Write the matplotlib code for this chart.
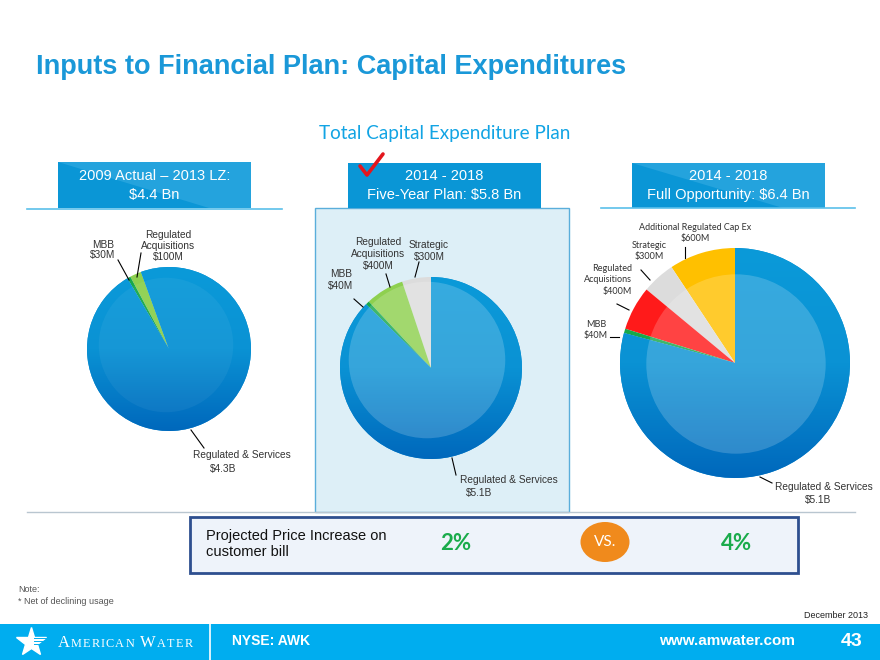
import numpy as np
import matplotlib.pyplot as plt
from matplotlib.patches import Rectangle, Polygon, Circle, Ellipse
from matplotlib.colors import LinearSegmentedColormap

W, H = 880, 660

# ---------- data ($M) ----------
PIE1_NAMES = ['Regulated\nAcquisitions', 'MBB', 'Regulated & Services']
PIE1_VALUES = [100, 30, 4300]
PIE2_NAMES = ['Strategic', 'Regulated\nAcquisitions', 'MBB', 'Regulated & Services']
PIE2_VALUES = [300, 400, 40, 5100]
PIE3_NAMES = ['Additional Regulated Cap Ex', 'Strategic', 'Regulated\nAcquisitions',
              'MBB', 'Regulated & Services']
PIE3_VALUES = [600, 300, 400, 40, 5100]
HEADERS = [('2009 Actual – 2013 LZ:', '$4.4 Bn'),
           ('2014 - 2018', 'Five-Year Plan: $5.8 Bn'),
           ('2014 - 2018', 'Full Opportunity: $6.4 Bn')]
PRICE_INCREASE = ['2%', '4%']

# ---------- colours ----------
BLUE = '#0C8FD4'
LGREEN = '#8ED04F'
DGREEN = '#17A84A'
GRAY = '#DCDCDC'
YELLOW = '#FFC000'
RED = '#FF1A1A'
HDR = '#0A96D6'
TITLE_BLUE = '#1A98D8'
FOOTER = '#00ADEF'

ARIAL = ['Liberation Sans', 'DejaVu Sans']
CALIBRI = ['Lato', 'DejaVu Sans']
SERIF = ['Liberation Serif', 'DejaVu Serif']


def Y(y):
    # slide pixel (top-down) -> data (bottom-up)
    return H - y


def fmt(v):
    return f'${v / 1000:.1f}B' if v >= 1000 else f'${v}M'


fig = plt.figure(figsize=(8.8, 6.6), dpi=100)
ax = fig.add_axes([0, 0, 1, 1])
ax.set_xlim(0, W)
ax.set_ylim(0, H)

# ---------- title ----------
ax.text(36, Y(67), 'Inputs to Financial Plan: Capital Expenditures', fontsize=19.5,
        fontweight='bold', color=TITLE_BLUE, family=ARIAL, va='center', ha='left')
ax.text(445, Y(133), 'Total Capital Expenditure Plan', fontsize=13.6, color='#12A4E4',
        family=CALIBRI, va='center', ha='center')

# ---------- middle panel ----------
ax.add_patch(Rectangle((315, Y(512)), 254, 304, fc='#DDEFF7', ec='#5AAEDB', lw=1, zorder=0))
ax.plot([27, 855], [Y(512), Y(512)], color='#B9C6D0', lw=1, zorder=0)

# ---------- header boxes ----------
boxes = [(58, 251, 162), (348, 541, 163), (632, 825, 163)]
for i, ((x0, x1, y0), (l1, l2)) in enumerate(zip(boxes, HEADERS)):
    ax.add_patch(Rectangle((x0, Y(208)), x1 - x0, 208 - y0, fc=HDR, lw=0, zorder=1))
    if i != 1:
        xb = x0 + 0.78 * (x1 - x0)
        ax.add_patch(Polygon([(x0, Y(y0)), (x1, Y(y0)), (x1, Y(208)), (xb, Y(208))],
                             closed=True, fc='#3FB0E4', alpha=0.5, lw=0, zorder=1))
    cx = (x0 + x1) / 2
    ax.text(cx, Y(176), l1, color='white', fontsize=10.5, family=ARIAL, ha='center', va='center', zorder=2)
    ax.text(cx, Y(195), l2, color='white', fontsize=10.5, family=ARIAL, ha='center', va='center', zorder=2)
ax.plot([27, 282], [Y(209), Y(209)], color='#5BC0EA', lw=1.2)
ax.plot([601, 855], [Y(208), Y(208)], color='#5BC0EA', lw=1.2)

# check mark
ax.plot([360, 367, 383], [Y(166), Y(175), Y(154)], color='#E3161D', lw=2.6,
        solid_capstyle='round', solid_joinstyle='round', zorder=3)


# ---------- pies ----------
def draw_pie(values, colors, cx, cy, r, start, inner, dots, alpha):
    wedges, _ = ax.pie(values, colors=colors, startangle=start, counterclock=True,
                       center=(cx, Y(cy)), radius=r, frame=True,
                       wedgeprops=dict(linewidth=0))
    big = wedges[-1]
    grad = np.linspace(0, 1, 256).reshape(-1, 1)
    cmap = LinearSegmentedColormap.from_list('b', ['#0068BC', '#0A92D4', '#0B9AD9'])
    im = ax.imshow(grad, extent=[cx - r, cx + r, Y(cy) - r, Y(cy) + r], origin='lower',
                   cmap=cmap, zorder=2, aspect='auto')
    im.set_clip_path(big)
    ax.add_patch(Circle((cx + dots[0], Y(cy + dots[1])), r * inner, fc='white',
                        alpha=alpha, lw=0, zorder=3))


draw_pie(PIE1_VALUES, [LGREEN, DGREEN, BLUE], 169, 349, 82, 110, 0.82, (-3, -4), 0.05)
draw_pie(PIE2_VALUES, [GRAY, LGREEN, DGREEN, BLUE], 431, 368, 91, 90, 0.86, (-4, -8), 0.18)
draw_pie(PIE3_VALUES, [YELLOW, GRAY, RED, DGREEN, BLUE], 735, 363, 115, 90, 0.78, (1, 1), 0.18)


def leader(line):
    (x0, y0), (x1, y1) = line
    ax.plot([x0, x1], [Y(y0), Y(y1)], color='black', lw=0.8, zorder=4)


def label(names, values, i, x, y, line, ha='center', fam=ARIAL, fs=7.3, ls=1.1):
    ax.text(x, Y(y), f'{names[i]}\n{fmt(values[i])}', fontsize=fs, family=fam,
            color='#333333', ha=ha, va='center', multialignment=ha, linespacing=ls, zorder=4)
    leader(line)


def label_split(names, values, i, x, y, vx, vy, line, fam=ARIAL, fs=7.3):
    # name and value placed on their own lines (value not centred under name)
    ax.text(x, Y(y), names[i], fontsize=fs, family=fam, color='#333333',
            ha='left', va='center', zorder=4)
    ax.text(vx, Y(vy), fmt(values[i]), fontsize=fs, family=fam, color='#333333',
            ha='left', va='center', zorder=4)
    leader(line)


# pie 1 labels
label(PIE1_NAMES, PIE1_VALUES, 1, 103, 250, ((118, 260), (129, 280)))
label(PIE1_NAMES, PIE1_VALUES, 0, 168, 246, ((141, 253), (137, 277)))
label_split(PIE1_NAMES, PIE1_VALUES, 2, 193, 455, 210, 469, ((191, 430), (204, 448)))
# pie 2 labels
label(PIE2_NAMES, PIE2_VALUES, 0, 429, 251, ((419, 262), (415, 277)), ls=1.3)
label(PIE2_NAMES, PIE2_VALUES, 1, 378, 254, ((386, 274), (390, 287)), ls=1.3)
label(PIE2_NAMES, PIE2_VALUES, 2, 341, 280, ((354, 299), (363, 307)), ls=1.3)
label_split(PIE2_NAMES, PIE2_VALUES, 3, 460, 480, 466, 493, ((452, 458), (456, 475)))
# pie 3 labels
label(PIE3_NAMES, PIE3_VALUES, 0, 695, 233, ((685, 247), (685, 258)), fam=CALIBRI, fs=6.5, ls=1.35)
label(PIE3_NAMES, PIE3_VALUES, 1, 649, 251, ((641, 270), (650, 280)), fam=CALIBRI, fs=6.5, ls=1.35)
label(PIE3_NAMES, PIE3_VALUES, 2, 632, 280, ((617, 304), (629, 310)), ha='right',
      fam=CALIBRI, fs=6.5, ls=1.35)
label(PIE3_NAMES, PIE3_VALUES, 3, 596, 330, ((610, 337), (619, 337)), fam=CALIBRI, fs=6.5, ls=1.35)
label_split(PIE3_NAMES, PIE3_VALUES, 4, 775, 487, 805, 500, ((760, 477), (772, 483)))

# ---------- price increase box ----------
ax.add_patch(Rectangle((190, Y(573)), 608, 56, fc='#EEF3FA', ec='#2E4F8F', lw=2, zorder=1))
ax.text(206, Y(544), 'Projected Price Increase on\ncustomer bill', fontsize=10.5, family=ARIAL,
        color='#111111', ha='left', va='center', linespacing=1.1, zorder=2)
ax.text(456, Y(543), PRICE_INCREASE[0], fontsize=16, fontweight='bold', family=CALIBRI,
        color='#1AAB4B', ha='center', va='center', zorder=2)
ax.text(737, Y(543), PRICE_INCREASE[1], fontsize=16, fontweight='bold', family=CALIBRI,
        color='#1AAB4B', ha='center', va='center', zorder=2)
ax.add_patch(Ellipse((605, Y(542)), 49, 40, fc='#F08A1C', lw=0, zorder=2))
ax.text(605, Y(542), 'VS.', fontsize=11, family=CALIBRI, color='white',
        ha='center', va='center', zorder=3)

# ---------- notes ----------
ax.text(18, Y(590), 'Note:', fontsize=6.5, family=ARIAL, color='#555555', va='center')
ax.text(18, Y(601), '* Net of declining usage', fontsize=6.5, family=ARIAL, color='#555555', va='center')
ax.text(868, Y(616), 'December 2013', fontsize=6.5, family=ARIAL, color='#222222',
        ha='right', va='center')

# ---------- footer ----------
ax.add_patch(Rectangle((0, 0), W, Y(624), fc=FOOTER, lw=0, zorder=1))
ax.plot([210, 210], [0, Y(624)], color='white', lw=1.2, zorder=2)
ax.plot([31], [Y(642)], marker='*', ms=22, color='white', mec='white', zorder=2)
for k in range(3):
    yy = 638 + k * 3
    ax.plot([34, 46], [Y(yy), Y(yy)], color=FOOTER, lw=0.7, zorder=3)

# small-caps company name, letters laid out one after another
renderer = fig.canvas.get_renderer()
xpos = 58
for word in ['AMERICAN', 'WATER']:
    for j, ch in enumerate(word):
        size = 12 if j == 0 else 8.8
        t = ax.text(xpos, Y(647), ch, fontsize=size, family=SERIF, color='white',
                    va='baseline', ha='left', zorder=2)
        xpos += t.get_window_extent(renderer).width + 1.1
    xpos += 5

ax.text(232, Y(641), 'NYSE: AWK', fontsize=10, fontweight='bold', family=ARIAL,
        color='white', va='center', ha='left', zorder=2)
ax.text(795, Y(641), 'www.amwater.com', fontsize=11, fontweight='bold', family=ARIAL,
        color='white', va='center', ha='right', zorder=2)
ax.text(852, Y(641), '43', fontsize=14, fontweight='bold', family=ARIAL,
        color='white', va='center', ha='center', zorder=2)

ax.axis('off')
fig.savefig('out.png', dpi=100, facecolor='white')
